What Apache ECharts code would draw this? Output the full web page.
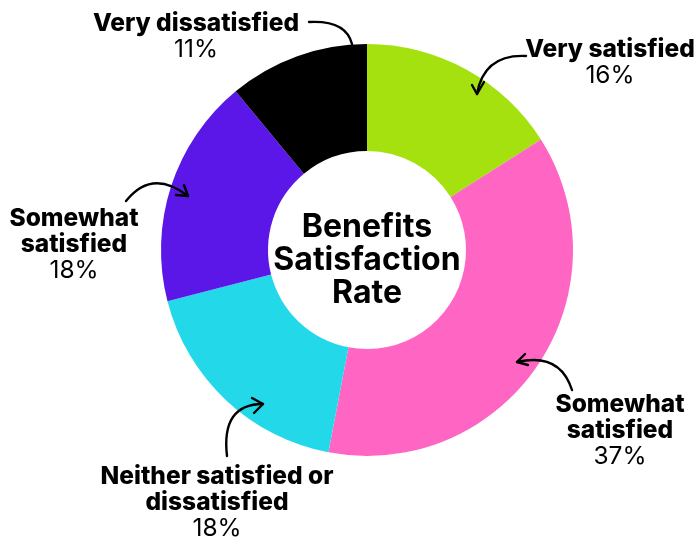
<!DOCTYPE html>
<html>
<head>
<meta charset="utf-8">
<script src="https://cdn.jsdelivr.net/npm/echarts@6/dist/echarts.min.js"></script>
<style>
  html, body { margin: 0; padding: 0; background: #ffffff; }
  #chart { width: 697px; height: 537px; }
</style>
</head>
<body>
<div id="chart"></div>
<script>
// Survey answers, clockwise from 12 o'clock
const categories = [
  'Very satisfied',
  'Somewhat satisfied',
  'Neither satisfied or dissatisfied',
  'Somewhat satisfied',
  'Very dissatisfied'
];
const labelLines = [
  'Very satisfied',
  'Somewhat\nsatisfied',
  'Neither satisfied or\ndissatisfied',
  'Somewhat\nsatisfied',
  'Very dissatisfied'
];
const shares = [16, 37, 18, 18, 11];
const colors = ['#A5E00F', '#FF66C4', '#23D8E8', '#5B17E8', '#000000'];
const centerTitle = 'Benefits\nSatisfaction\nRate';

const FONT = 'Inter, "Noto Sans", sans-serif';
const CX = 367, CY = 250;

// Where each callout text block sits (block centre)
const calloutPos = [
  [610, 63],
  [620, 431],
  [217, 503],
  [74, 245],
  [196, 37]
];

// Hand-drawn style arrows: start, control point, tip, arrowhead wings
const arrows = [
  { from: [526, 56], ctrl: [484, 54], to: [477, 94], head: [[472, 85], [477, 94], [484, 82]] },
  { from: [572, 390], ctrl: [560, 352], to: [517, 362], head: [[525, 354], [517, 362], [528, 365]] },
  { from: [227, 456], ctrl: [221, 404], to: [263, 404], head: [[252, 398], [263, 404], [254, 413]] },
  { from: [126, 201], ctrl: [152, 168], to: [188, 196], head: [[176, 195], [188, 196], [184, 185]] },
  { from: [309, 22], ctrl: [346, 20], to: [352, 44], head: null }
];

const strokeStyle = { fill: null, stroke: '#000', lineWidth: 2.4, lineCap: 'round', lineJoin: 'round' };
const graphic = [];
arrows.forEach(a => {
  graphic.push({
    type: 'bezierCurve',
    shape: { x1: a.from[0], y1: a.from[1], cpx1: a.ctrl[0], cpy1: a.ctrl[1], x2: a.to[0], y2: a.to[1] },
    style: Object.assign({}, strokeStyle),
    z: 10
  });
  if (a.head) {
    graphic.push({
      type: 'polyline',
      shape: { points: a.head },
      style: Object.assign({}, strokeStyle),
      z: 10
    });
  }
});
graphic.push({
  type: 'text',
  x: CX,
  y: CY + 10,
  style: {
    text: centerTitle,
    font: 'bold 32px ' + FONT,
    lineHeight: 33,
    fill: '#000',
    align: 'center',
    verticalAlign: 'middle'
  },
  z: 10
});

const chart = echarts.init(document.getElementById('chart'), null, { renderer: 'canvas' });
chart.setOption({
  backgroundColor: '#ffffff',
  animation: false,
  graphic: graphic,
  series: [{
    type: 'pie',
    center: [CX, CY],
    radius: [99, 206],
    startAngle: 90,
    clockwise: true,
    avoidLabelOverlap: false,
    emphasis: { disabled: true },
    // colour set per slice: two answers share a name
    data: categories.map((c, i) => ({
      name: c,
      value: shares[i],
      itemStyle: { color: colors[i], borderWidth: 0 }
    })),
    label: {
      show: true,
      position: 'outside',
      formatter: p => labelLines[p.dataIndex].split('\n').map(s => '{n|' + s + '}').join('\n') + '\n{v|' + p.value + '%}',
      rich: {
        n: { fontFamily: FONT, fontWeight: 800, fontSize: 24.5, lineHeight: 26, color: '#000', align: 'center' },
        v: { fontFamily: FONT, fontWeight: 'normal', fontSize: 24.5, lineHeight: 26, color: '#000', align: 'center' }
      }
    },
    labelLine: { show: false },
    labelLayout: p => ({
      x: calloutPos[p.dataIndex][0],
      y: calloutPos[p.dataIndex][1],
      align: 'center',
      verticalAlign: 'middle'
    })
  }]
});
</script>
</body>
</html>
